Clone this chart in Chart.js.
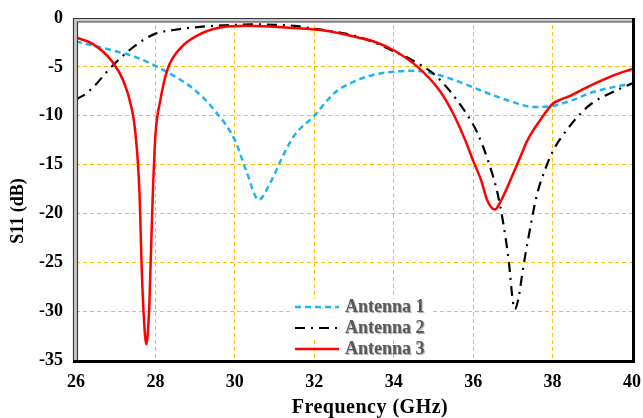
<!DOCTYPE html>
<html>
<head>
<meta charset="utf-8">
<script src="https://cdn.jsdelivr.net/npm/chart.js@4.4.1/dist/chart.umd.min.js"></script>
<style>
  html, body { margin: 0; padding: 0; background: #fff; }
  #wrap { width: 643px; height: 418px; position: relative; }
</style>
</head>
<body>
<div id="wrap"><canvas id="s11Chart" width="643" height="418"></canvas></div>
<script>
// Reflection coefficient sweeps, 26-40 GHz
const freqAnt1 = [26, 26.5, 27, 27.5, 28, 28.5, 29, 29.5, 30, 30.3, 30.6, 30.9, 31.2, 31.5, 32, 32.5, 33, 33.5, 34, 34.5, 35, 35.5, 36, 36.5, 37, 37.5, 38, 38.5, 39, 39.5, 40];
const s11Ant1 = [-2.4, -2.9, -3.4, -4.0, -4.9, -6.0, -7.4, -9.5, -12.5, -15.8, -18.6, -16.8, -14.2, -12.0, -10.0, -7.7, -6.5, -5.8, -5.5, -5.4, -5.7, -6.3, -7.1, -7.9, -8.6, -9.1, -9.0, -8.4, -7.6, -7.1, -6.7];

const freqAnt2 = [26, 26.2, 26.5, 26.8, 27.2, 27.6, 28, 28.5, 29, 29.5, 30, 30.5, 31, 31.5, 32, 32.5, 33, 33.5, 34, 34.5, 35, 35.4, 35.8, 36.1, 36.4, 36.6, 36.75, 36.9, 37.0, 37.05, 37.15, 37.25, 37.4, 37.6, 37.85, 38.05, 38.35, 38.7, 39.0, 39.4, 40];
const s11Ant2 = [-8.3, -7.9, -6.8, -5.4, -3.8, -2.5, -1.6, -1.2, -0.95, -0.8, -0.7, -0.65, -0.7, -0.8, -1.1, -1.4, -1.8, -2.5, -3.4, -4.4, -5.7, -7.4, -9.6, -11.7, -14.9, -17.7, -20.8, -25.0, -29.0, -29.8, -28.5, -25.8, -22.3, -18.2, -15.1, -13.3, -11.5, -9.8, -8.7, -7.8, -6.7];

const freqAnt3 = [26, 26.4, 26.9, 27.2, 27.4, 27.5, 27.6, 27.65, 27.7, 27.77, 27.84, 27.88, 27.93, 28.0, 28.12, 28.3, 28.65, 29.1, 29.6, 30.3, 31.4, 32.3, 33.1, 33.5, 34, 34.6, 35.15, 35.5, 35.8, 36.0, 36.2, 36.36, 36.55, 36.7, 36.97, 37.2, 37.37, 37.68, 38.0, 38.23, 38.43, 38.86, 39.4, 40];
const s11Ant3 = [-2.0, -2.6, -4.4, -6.5, -9.2, -11.9, -18.0, -25.0, -30.0, -33.4, -30.0, -25.0, -18.5, -12.0, -8.5, -5.3, -3.0, -1.7, -1.0, -0.8, -1.0, -1.3, -2.0, -2.4, -3.3, -5.0, -7.4, -9.8, -12.5, -14.6, -16.6, -18.7, -19.6, -18.7, -16.3, -14.1, -12.5, -10.5, -8.8, -8.3, -8.0, -7.1, -6.1, -5.2];

const seriesNames = ['Antenna 1', 'Antenna 2', 'Antenna 3'];
const freqTicks = [26, 28, 30, 32, 34, 36, 38, 40];
const s11Ticks = [0, -5, -10, -15, -20, -25, -30, -35];

const serif = '"Liberation Serif", "Times New Roman", serif';

function toPoints(xs, ys) {
    return xs.map((x, i) => ({ x: x, y: ys[i] }));
}

// bevelled plot frame: grey double line top/left, heavy black right/bottom
const plotFrame = {
    id: 'plotFrame',
    afterDatasetsDraw(chart) {
        const { ctx, chartArea: a } = chart;
        ctx.save();
        ctx.fillStyle = '#c8c8c8';
        ctx.fillRect(a.left - 3, a.top, 4, a.bottom - a.top);
        ctx.fillRect(a.left - 3, a.top, a.right - a.left + 3, 4);
        ctx.strokeStyle = '#3a3a3a';
        ctx.lineWidth = 1.2;
        ctx.beginPath();
        ctx.moveTo(a.left - 2.5, a.bottom);
        ctx.lineTo(a.left - 2.5, a.top + 0.5);
        ctx.lineTo(a.right, a.top + 0.5);
        ctx.moveTo(a.left + 1.5, a.bottom);
        ctx.lineTo(a.left + 1.5, a.top + 4);
        ctx.lineTo(a.right, a.top + 4);
        ctx.stroke();
        ctx.strokeStyle = '#000';
        ctx.lineWidth = 3;
        ctx.beginPath();
        ctx.moveTo(a.right + 1.5, a.top);
        ctx.lineTo(a.right + 1.5, a.bottom + 3);
        ctx.moveTo(a.left - 3, a.bottom + 1.5);
        ctx.lineTo(a.right + 3, a.bottom + 1.5);
        ctx.stroke();
        ctx.restore();
    }
};

// axis titles placed by hand
const axisTitles = {
    id: 'axisTitles',
    afterDraw(chart) {
        const { ctx } = chart;
        ctx.save();
        ctx.fillStyle = '#000';
        ctx.textAlign = 'center';
        ctx.textBaseline = 'middle';
        ctx.font = 'bold 20px ' + serif;
        ctx.letterSpacing = '0.5px';
        ctx.fillText('Frequency (GHz)', 370, 408);
        ctx.letterSpacing = '0px';
        ctx.translate(18, 211);
        ctx.rotate(-Math.PI / 2);
        ctx.font = 'bold 18px ' + serif;
        ctx.fillText('S11 (dB)', 0, 0);
        ctx.restore();
    }
};

// legend box inside the plot area
const innerLegend = {
    id: 'innerLegend',
    afterDraw(chart) {
        const { ctx } = chart;
        const x0 = 295, x1 = 339, tx = 345, rowY = [307, 328, 349];
        ctx.save();
        ctx.fillStyle = '#fff';
        ctx.fillRect(292, 299, 140, 38);
        chart.data.datasets.forEach((ds, i) => {
            const y = rowY[i];
            ctx.strokeStyle = ds.borderColor;
            ctx.lineWidth = ds.borderWidth;
            ctx.setLineDash(ds.borderDash || []);
            ctx.beginPath();
            ctx.moveTo(x0, y);
            ctx.lineTo(x1, y);
            ctx.stroke();
            ctx.setLineDash([]);
            ctx.font = 'bold 18px ' + serif;
            ctx.textBaseline = 'middle';
            ctx.shadowColor = 'rgba(0,0,0,0.35)';
            ctx.shadowOffsetX = 1;
            ctx.shadowOffsetY = 1;
            ctx.shadowBlur = 1;
            ctx.fillStyle = '#595959';
            ctx.fillText(ds.label, tx, y);
            ctx.shadowColor = 'transparent';
        });
        ctx.restore();
    }
};

const gridColor = '#FFC000';

new Chart(document.getElementById('s11Chart'), {
    type: 'scatter',
    data: {
        datasets: [
            {
                label: seriesNames[0],
                data: toPoints(freqAnt1, s11Ant1),
                showLine: true,
                borderColor: '#1EB4EC',
                borderWidth: 2.5,
                borderDash: [6, 4],
                pointRadius: 0,
                cubicInterpolationMode: 'monotone',
                order: 3
            },
            {
                label: seriesNames[1],
                data: toPoints(freqAnt2, s11Ant2),
                showLine: true,
                borderColor: '#000000',
                borderWidth: 2.2,
                borderDash: [10, 6, 2, 6],
                pointRadius: 0,
                cubicInterpolationMode: 'monotone',
                order: 2
            },
            {
                label: seriesNames[2],
                data: toPoints(freqAnt3, s11Ant3),
                showLine: true,
                borderColor: '#FF0000',
                borderWidth: 2.5,
                pointRadius: 0,
                cubicInterpolationMode: 'monotone',
                order: 1
            }
        ]
    },
    options: {
        responsive: false,
        animation: false,
        layout: { padding: { top: 18, right: 11, left: 0, bottom: 0 } },
        plugins: {
            legend: { display: false },
            tooltip: { enabled: false }
        },
        scales: {
            x: {
                type: 'linear',
                min: 26,
                max: 40,
                afterBuildTicks(scale) { scale.ticks = freqTicks.map(v => ({ value: v })); },
                afterFit(scale) {
                    scale.height = 58;
                    scale.paddingLeft = 0;
                    scale.paddingRight = 0;
                },
                grid: { color: gridColor, lineWidth: 1, drawTicks: false },
                border: { display: false, dash: [4, 3] },
                ticks: { color: '#000', padding: 12, font: { family: serif, size: 18, weight: 'bold' } }
            },
            y: {
                type: 'linear',
                min: -35,
                max: 0,
                afterBuildTicks(scale) { scale.ticks = s11Ticks.map(v => ({ value: v })); },
                afterFit(scale) {
                    scale.width = 76;
                    scale.paddingTop = 0;
                    scale.paddingBottom = 0;
                },
                grid: { color: gridColor, lineWidth: 1, drawTicks: false },
                border: { display: false, dash: [4, 3] },
                ticks: { color: '#000', padding: 13, font: { family: serif, size: 18, weight: 'bold' } }
            }
        }
    },
    plugins: [plotFrame, axisTitles, innerLegend]
});
</script>
</body>
</html>
